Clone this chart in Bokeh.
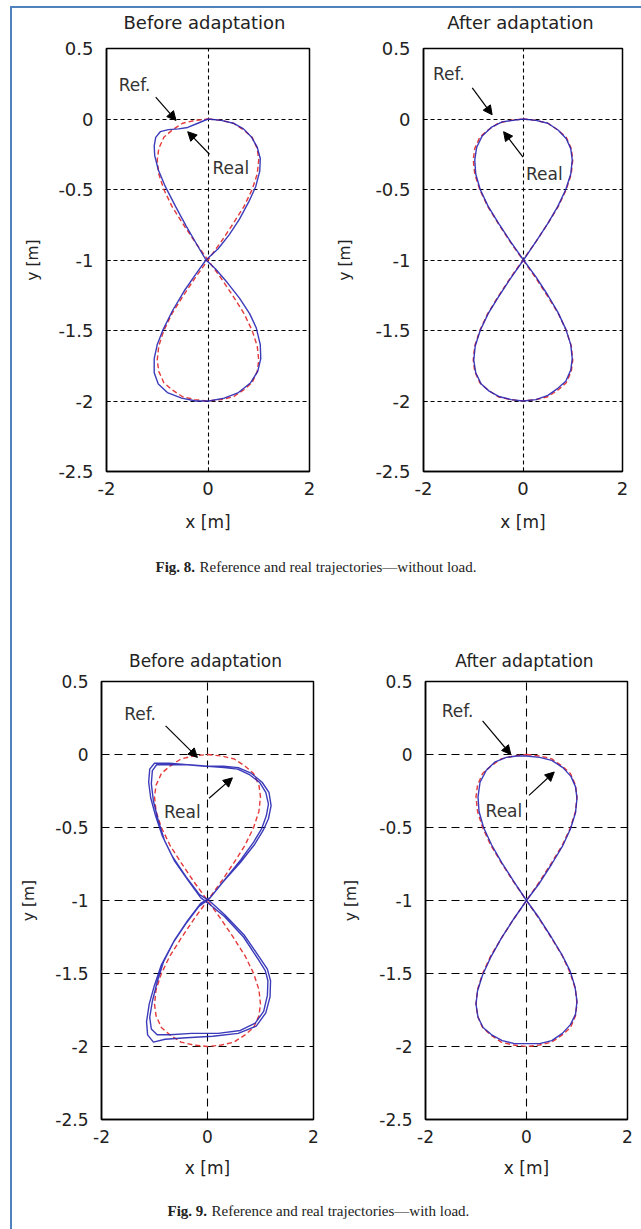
from bokeh.plotting import figure
from bokeh.models import Range1d, FixedTicker, Label, Arrow, NormalHead, Spacer
from bokeh.layouts import row, column
from bokeh.embed import file_html
from bokeh.resources import INLINE

# ---------------------------------------------------------------- data
# Reference figure-eight trajectory (same in every panel), metres
ref_x = [0.00, 0.26, 0.50, 0.71, 0.87, 0.97, 1.00, 0.97, 0.87, 0.71, 0.50, 0.26,
         0.00, -0.26, -0.50, -0.71, -0.87, -0.97, -1.00, -0.97, -0.87, -0.71, -0.50, -0.26,
         0.00, 0.26, 0.50, 0.71, 0.87, 0.97, 1.00, 0.97, 0.87, 0.71, 0.50, 0.26,
         0.00, -0.26, -0.50, -0.71, -0.87, -0.97, -1.00, -0.97, -0.87, -0.71, -0.50, -0.26, 0.00]
ref_y = [0.00, -0.01, -0.03, -0.08, -0.13, -0.21, -0.29, -0.39, -0.50, -0.62, -0.74, -0.87,
         -1.00, -1.13, -1.26, -1.38, -1.50, -1.61, -1.71, -1.79, -1.87, -1.92, -1.97, -1.99,
         -2.00, -1.99, -1.97, -1.92, -1.87, -1.79, -1.71, -1.61, -1.50, -1.38, -1.26, -1.13,
         -1.00, -0.87, -0.74, -0.62, -0.50, -0.39, -0.29, -0.21, -0.13, -0.08, -0.03, -0.01, 0.00]

# Fig. 8 - without load, before adaptation (real trajectory)
noload_before_x = [0.00, 0.26, 0.50, 0.70, 0.86, 0.97, 1.03, 1.02, 0.94, 0.80, 0.62, 0.42, 0.20,
                   -0.04, -0.24, -0.47, -0.70, -0.88, -1.00, -1.06, -1.06, -0.98, -0.80, -0.52, -0.24,
                   0.02, 0.32, 0.60, 0.84, 0.98, 1.04, 1.03, 0.95, 0.82, 0.62, 0.38, 0.14,
                   -0.04, -0.22, -0.43, -0.64, -0.84, -0.98, -1.05, -1.06, -1.03, -0.94, -0.78, -0.58,
                   -0.40, -0.20, 0.00]
noload_before_y = [0.00, -0.01, -0.03, -0.07, -0.13, -0.20, -0.28, -0.37, -0.48, -0.59, -0.71, -0.82, -0.92,
                   -1.00, -1.10, -1.22, -1.36, -1.49, -1.60, -1.70, -1.80, -1.88, -1.94, -1.98, -2.00,
                   -2.00, -1.98, -1.94, -1.87, -1.79, -1.70, -1.60, -1.48, -1.38, -1.27, -1.16, -1.06,
                   -1.00, -0.89, -0.76, -0.62, -0.48, -0.36, -0.26, -0.19, -0.13, -0.09, -0.075, -0.07,
                   -0.06, -0.03, 0.00]

# Fig. 8 - without load, after adaptation (real trajectory)
noload_after_x = [0.00, 0.26, 0.50, 0.71, 0.87, 0.96, 0.99, 0.96, 0.86, 0.70, 0.50, 0.26,
                  0.01, -0.25, -0.49, -0.70, -0.86, -0.96, -0.99, -0.95, -0.84, -0.68, -0.47, -0.24,
                  0.00, 0.26, 0.50, 0.70, 0.86, 0.96, 0.99, 0.96, 0.86, 0.70, 0.50, 0.26,
                  0.01, -0.25, -0.49, -0.70, -0.86, -0.95, -0.97, -0.93, -0.82, -0.64, -0.42, -0.20, 0.00]
noload_after_y = [0.00, -0.01, -0.03, -0.08, -0.14, -0.21, -0.29, -0.39, -0.50, -0.62, -0.74, -0.87,
                  -1.00, -1.13, -1.26, -1.38, -1.50, -1.61, -1.71, -1.80, -1.88, -1.93, -1.97, -1.99,
                  -2.00, -1.99, -1.96, -1.91, -1.86, -1.78, -1.70, -1.60, -1.49, -1.37, -1.25, -1.12,
                  -1.00, -0.87, -0.74, -0.62, -0.50, -0.39, -0.29, -0.20, -0.12, -0.06, -0.02, -0.01, 0.00]

# Fig. 9 - with load, before adaptation (real trajectory, two laps)
load_before_x = [0.00, 0.31, 0.57, 0.80, 0.98, 1.10, 1.15, 1.11, 1.02, 0.87, 0.63, 0.32, 0.05,
                 -0.13, -0.38, -0.62, -0.83, -0.95, -1.04, -1.09, -1.06, -0.95, -0.70, -0.30, 0.20,
                 0.62, 0.90, 1.06, 1.13, 1.14, 1.09, 0.97, 0.68, 0.32, 0.02, -0.13, -0.37, -0.62,
                 -0.81, -0.93, -1.02, -1.06, -1.04, -0.96, -0.70, -0.35, 0.00,
                 0.30, 0.58, 0.83, 1.03, 1.16, 1.20, 1.15, 1.05, 0.88, 0.62, 0.30, 0.03,
                 -0.16, -0.41, -0.65, -0.87, -1.00, -1.10, -1.15, -1.13, -1.02, -0.80, -0.40, 0.10,
                 0.58, 0.92, 1.10, 1.18, 1.19, 1.13, 1.00, 0.70, 0.33, 0.03, -0.15, -0.40, -0.66,
                 -0.85, -0.98, -1.07, -1.11, -1.09, -1.00, -0.72, -0.38, -0.05]
load_before_y = [-0.08, -0.09, -0.10, -0.14, -0.19, -0.26, -0.34, -0.42, -0.51, -0.60, -0.72, -0.86, -0.98,
                 -1.02, -1.14, -1.27, -1.42, -1.56, -1.69, -1.80, -1.88, -1.92, -1.92, -1.91, -1.91,
                 -1.89, -1.84, -1.76, -1.65, -1.55, -1.48, -1.41, -1.25, -1.11, -1.02, -0.98, -0.86, -0.73,
                 -0.59, -0.45, -0.32, -0.20, -0.11, -0.07, -0.07, -0.07, -0.08,
                 -0.08, -0.09, -0.13, -0.19, -0.26, -0.35, -0.44, -0.52, -0.62, -0.74, -0.87, -0.99,
                 -1.04, -1.16, -1.29, -1.44, -1.58, -1.71, -1.83, -1.92, -1.97, -1.95, -1.94, -1.93,
                 -1.91, -1.86, -1.77, -1.66, -1.55, -1.47, -1.40, -1.24, -1.10, -1.00, -0.96, -0.84, -0.70,
                 -0.56, -0.42, -0.30, -0.19, -0.10, -0.06, -0.06, -0.07, -0.08]

# Fig. 9 - with load, after adaptation (real trajectory)
load_after_x = [0.00, 0.26, 0.50, 0.72, 0.88, 0.97, 1.00, 0.97, 0.87, 0.71, 0.50, 0.26,
                0.00, -0.26, -0.50, -0.71, -0.87, -0.97, -1.00, -0.96, -0.86, -0.69, -0.48, -0.24,
                0.00, 0.26, 0.50, 0.71, 0.87, 0.97, 1.00, 0.96, 0.86, 0.70, 0.49, 0.25,
                0.00, -0.25, -0.49, -0.69, -0.85, -0.94, -0.96, -0.92, -0.80, -0.62, -0.40, -0.20, 0.00]
load_after_y = [-0.01, -0.02, -0.04, -0.09, -0.15, -0.22, -0.30, -0.40, -0.51, -0.63, -0.75, -0.88,
                -1.00, -1.13, -1.26, -1.39, -1.51, -1.62, -1.71, -1.80, -1.87, -1.92, -1.96, -1.98,
                -1.98, -1.98, -1.96, -1.91, -1.85, -1.78, -1.69, -1.59, -1.48, -1.37, -1.25, -1.12,
                -1.00, -0.87, -0.74, -0.62, -0.50, -0.39, -0.29, -0.19, -0.11, -0.05, -0.02, -0.01, -0.01]

x_ticks = [-2, 0, 2]
x_tick_labels = ["-2", "0", "2"]
y_ticks = [0.5, 0, -0.5, -1, -1.5, -2, -2.5]
y_tick_labels = ["0.5", "0", "-0.5", "-1", "-1.5", "-2", "-2.5"]

panel_titles = ["Before adaptation", "After adaptation"]
captions = [("Fig. 8.", "Reference and real trajectories\u2014without load."),
            ("Fig. 9.", "Reference and real trajectories\u2014with load.")]

# ---------------------------------------------------------------- styling
SANS = "DejaVu Sans"
SERIF = "Liberation Serif"
TEXT = "#222222"
REF_COLOR = "#e43a3a"
REAL_COLOR = "#2626b4"
BORDER_BLUE = "#4f81bd"
STRIP_W = 629


def make_panel(real_x, real_y, *, width, height, borders, font_px,
               grid_dash, ylabel_standoff, xlabel_standoff, ann):
    left, right, top, bottom = borders
    p = figure(width=width, height=height,
               x_range=Range1d(-2, 2), y_range=Range1d(-2.5, 0.5),
               x_axis_label="x [m]", y_axis_label="y [m]",
               output_backend="svg", toolbar_location=None,
               min_border_left=left, min_border_right=right,
               min_border_top=top, min_border_bottom=bottom)
    p.background_fill_color = "white"
    p.border_fill_color = "white"
    p.outline_line_color = "black"
    p.outline_line_width = 1.5
    p.outline_line_alpha = 1.0

    p.xaxis.ticker = FixedTicker(ticks=x_ticks)
    p.yaxis.ticker = FixedTicker(ticks=y_ticks)
    p.xaxis.major_label_overrides = dict(zip(x_ticks, x_tick_labels))
    p.yaxis.major_label_overrides = dict(zip(y_ticks, y_tick_labels))
    for ax in (p.xaxis[0], p.yaxis[0]):
        ax.major_label_text_font = SANS
        ax.major_label_text_font_size = f"{font_px}px"
        ax.major_label_text_color = TEXT
        ax.axis_label_text_font = SANS
        ax.axis_label_text_font_style = "normal"
        ax.axis_label_text_color = TEXT
        ax.axis_line_color = "black"
        ax.axis_line_width = 1.5
        ax.major_tick_in = 4
        ax.major_tick_out = 0
        ax.major_tick_line_color = "black"
        ax.minor_tick_line_color = None
    p.xaxis.major_label_standoff = 10
    p.yaxis.major_label_standoff = 13
    p.xaxis.axis_label_text_font_size = "17px"
    p.yaxis.axis_label_text_font_size = "15.5px"
    p.xaxis.axis_label_standoff = xlabel_standoff
    p.yaxis.axis_label_standoff = ylabel_standoff

    p.grid.grid_line_color = "black"
    p.grid.grid_line_width = 1.1
    p.grid.grid_line_dash = grid_dash
    p.grid.grid_line_alpha = 1.0

    p.line(ref_x, ref_y, line_color=REF_COLOR, line_width=1.4, line_dash="5 3")
    p.line(real_x, real_y, line_color=REAL_COLOR, line_width=1.4, line_alpha=0.9)

    for text, (tx, ty), (x0, y0, x1, y1) in ann:
        p.add_layout(Label(x=tx, y=ty, text=text, text_font=SANS,
                           text_font_size="17px", text_color="#333333",
                           text_align="left", text_baseline="middle"))
        p.add_layout(Arrow(end=NormalHead(size=9, fill_color="black",
                                          line_color="black", line_width=1),
                           x_start=x0, y_start=y0, x_end=x1, y_end=y1,
                           line_color="black", line_width=1.2))
    return p


def make_strip(height):
    """A blank full-width band (pixel coordinates, y measured from the top)."""
    s = figure(width=STRIP_W, height=height, x_range=Range1d(0, STRIP_W),
               y_range=Range1d(height, 0), x_axis_type=None, y_axis_type=None,
               output_backend="svg", toolbar_location=None, min_border=0)
    s.outline_line_color = None
    s.background_fill_color = "white"
    s.border_fill_color = "white"
    return s


def add_titles(s, centres, y, font_px):
    for text, cx in zip(panel_titles, centres):
        s.add_layout(Label(x=cx, y=y, text=text, text_font=SANS,
                           text_font_size=f"{font_px}px", text_color=TEXT,
                           text_align="center", text_baseline="middle"))


def add_caption(s, caption, y, start_x):
    number, rest = caption
    s.add_layout(Label(x=start_x, y=y, text=number, text_font=SERIF,
                       text_font_style="bold", text_font_size="15px",
                       text_color=TEXT, text_align="left", text_baseline="middle"))
    s.add_layout(Label(x=start_x + 44, y=y, text=rest, text_font=SERIF,
                       text_font_size="15px", text_color=TEXT,
                       text_align="left", text_baseline="middle"))


p1 = make_panel(noload_before_x, noload_before_y,
                width=308, height=506, borders=(94, 11, 9, 74), font_px=18,
                grid_dash="4 3", ylabel_standoff=13, xlabel_standoff=14,
                ann=[("Ref.", (-1.76, 0.24), (-1.03, 0.155, -0.63, -0.01)),
                     ("Real", (0.09, -0.35), (0.03, -0.25, -0.40, -0.09))])
p2 = make_panel(noload_after_x, noload_after_y,
                width=321, height=506, borders=(103, 19, 9, 74), font_px=18,
                grid_dash="4 3", ylabel_standoff=18, xlabel_standoff=14,
                ann=[("Ref.", (-1.81, 0.32), (-1.02, 0.22, -0.62, 0.03)),
                     ("Real", (0.06, -0.39), (0.0, -0.27, -0.39, -0.09))])
p3 = make_panel(load_before_x, load_before_y,
                width=308, height=513, borders=(89, 7, 9, 66), font_px=17,
                grid_dash="8 5", ylabel_standoff=14, xlabel_standoff=12,
                ann=[("Ref.", (-1.57, 0.275), (-0.79, 0.196, -0.19, -0.02)),
                     ("Real", (-0.82, -0.395), (0.03, -0.30, 0.47, -0.16))])
p4 = make_panel(load_after_x, load_after_y,
                width=321, height=513, borders=(105, 14, 9, 66), font_px=17,
                grid_dash="8 5", ylabel_standoff=16, xlabel_standoff=12,
                ann=[("Ref.", (-1.68, 0.30), (-0.87, 0.23, -0.31, 0.0)),
                     ("Real", (-0.81, -0.39), (0.05, -0.28, 0.55, -0.12))])

# heading band above Fig. 8
head8 = make_strip(30)
add_titles(head8, [192, 508], 13, 18)

# band holding the Fig. 8 caption and the Fig. 9 headings
middle = make_strip(127)
add_caption(middle, captions[0], 21, 143)
add_titles(middle, [193, 512], 115, 17)

# Fig. 9 caption band
foot9 = make_strip(44)
add_caption(foot9, captions[1], 25, 155)

blue = {"background-color": BORDER_BLUE}
content = column(Spacer(width=STRIP_W, height=2, styles=blue),
                 Spacer(width=STRIP_W, height=1),
                 head8, row(p1, p2), middle, row(p3, p4), foot9)
page = column(Spacer(width=641, height=6),
              row(Spacer(width=10, height=1223),
                  Spacer(width=2, height=1223, styles=blue),
                  content))

open("out.html", "w").write(file_html(page, INLINE))
